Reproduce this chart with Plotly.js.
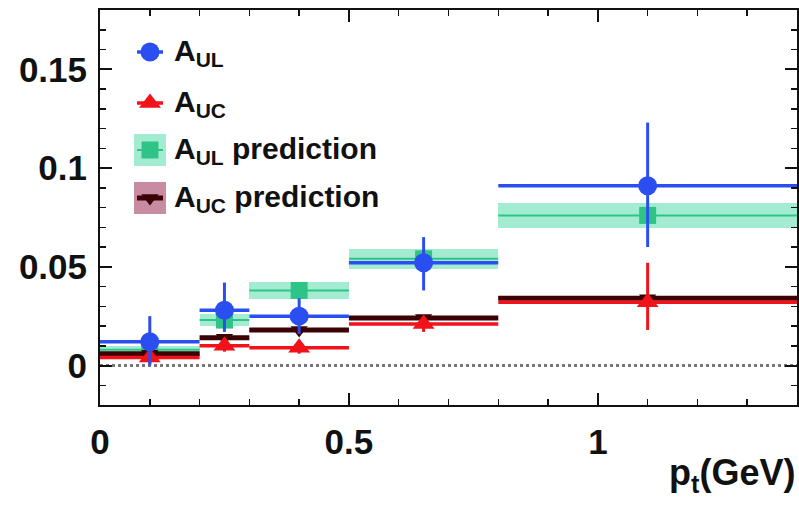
<!DOCTYPE html>
<html>
<head>
<meta charset="utf-8">
<script src="https://cdn.plot.ly/plotly-3.0.1.min.js"></script>
<style>html,body{margin:0;padding:0;background:#fff;}#chart{width:799px;height:507px;}</style>
</head>
<body>
<div id="chart"></div>
<script>
// ---- data ----
var ptX      = [0.1, 0.25, 0.4, 0.65, 1.1];      // bin centres (GeV)
var binHalf  = [0.1, 0.05, 0.1, 0.15, 0.3];      // half bin widths
var aUL      = [0.012, 0.028, 0.025, 0.052, 0.091];
var aULup    = [0.013, 0.014, 0.009, 0.013, 0.032];
var aULdn    = [0.012, 0.011, 0.009, 0.014, 0.031];
var aUC      = [0.004, 0.010, 0.009, 0.021, 0.032];
var aUCup    = [0.003, 0.003, 0.003, 0.004, 0.020];
var aUCdn    = [0.003, 0.003, 0.003, 0.004, 0.014];
var predUL    = [0.008, 0.023, 0.038, 0.054, 0.076];
var predULerr = [0.002, 0.003, 0.0045, 0.005, 0.0063];
var predUC    = [0.006, 0.014, 0.018, 0.024, 0.034];
var predUCerr = [0.001, 0.001, 0.001, 0.001, 0.001];
var legendLabels = ['A<sub>UL</sub>', 'A<sub>UC</sub>', 'A<sub>UL</sub> prediction', 'A<sub>UC</sub> prediction'];
var xTitle = 'p<sub>t</sub>(GeV)';

// ---- styles ----
var cBlue = '#2b4ef0', cRed = '#f2121a', cGreen = '#2fc487', cGreenBand = '#a3ecd2',
    cDark = '#3a0205', cPinkBand = '#c98ba2';
var FONT = 'Liberation Sans, Arial, Helvetica, sans-serif';

function widths(arr){ return arr.map(function(h){ return 2*h; }); }
function bases(v, e){ return v.map(function(y,i){ return y - e[i]; }); }
function heights(e){ return e.map(function(x){ return 2*x; }); }

var traces = [
  // prediction bands
  {type:'bar', x:ptX, width:widths(binHalf), base:bases(predUL,predULerr), y:heights(predULerr),
   marker:{color:cGreenBand, line:{width:0}}, showlegend:false, hoverinfo:'skip'},
  {type:'bar', x:ptX, width:widths(binHalf), base:bases(predUC,predUCerr), y:heights(predUCerr),
   marker:{color:cPinkBand, line:{width:0}}, showlegend:false, hoverinfo:'skip'},
  // prediction central values
  {type:'scatter', mode:'markers', x:ptX, y:predUL,
   marker:{symbol:'square', size:17, color:cGreen},
   error_x:{type:'data', array:binHalf, thickness:2, width:0, color:cGreen}, showlegend:false},
  {type:'scatter', mode:'markers', x:ptX, y:predUC,
   marker:{symbol:'triangle-down', size:15, color:cDark},
   error_x:{type:'data', array:binHalf, thickness:5, width:0, color:cDark}, showlegend:false},
  // measurements
  {type:'scatter', mode:'markers', x:ptX, y:aUC,
   marker:{symbol:'triangle-up', size:19, color:cRed},
   error_x:{type:'data', array:binHalf, thickness:3.5, width:0, color:cRed},
   error_y:{type:'data', array:aUCup, arrayminus:aUCdn, thickness:3, width:0, color:cRed}, showlegend:false},
  {type:'scatter', mode:'markers', x:ptX, y:aUL,
   marker:{symbol:'circle', size:19, color:cBlue},
   error_x:{type:'data', array:binHalf, thickness:3.5, width:0, color:cBlue},
   error_y:{type:'data', array:aULup, arrayminus:aULdn, thickness:3, width:0, color:cBlue}, showlegend:false}
];

// ---- custom legend (keys drawn on a pixel-unit overlay axis) ----
var legX = 50, legTextX = 72, legRows = [42, 93, 140, 188], keyHalf = 13;
var keySpecs = [
  {sym:'circle', size:19, color:cBlue, line:cBlue, lw:3.5},
  {sym:'triangle-up', size:19, color:cRed, line:cRed, lw:3.5},
  {sym:'square', size:17, color:cGreen, line:cGreen, lw:2, band:cGreenBand},
  {sym:'triangle-down', size:15, color:cDark, line:cDark, lw:5, band:cPinkBand}
];
var annotations = [];
keySpecs.forEach(function(k, i){
  if (k.band) {
    traces.push({type:'scatter', mode:'markers', xaxis:'x2', yaxis:'y2', x:[legX], y:[legRows[i]],
      marker:{symbol:'square', size:32, color:k.band}, showlegend:false, hoverinfo:'skip'});
  }
  traces.push({type:'scatter', mode:'markers', xaxis:'x2', yaxis:'y2', x:[legX], y:[legRows[i]],
    marker:{symbol:k.sym, size:k.size, color:k.color},
    error_x:{type:'data', array:[keyHalf], thickness:k.lw, width:0, color:k.line},
    showlegend:false, hoverinfo:'skip'});
  annotations.push({xref:'x2', yref:'y2', x:legTextX, y:legRows[i], xanchor:'left', yanchor:'middle',
    text:legendLabels[i], showarrow:false, font:{family:FONT, size:30, color:'#111', weight:'bold'}});
});

annotations.push({xref:'paper', yref:'paper', x:1.0, y:-0.115, xanchor:'right', yanchor:'top',
  text:xTitle, showarrow:false, font:{family:FONT, size:36, color:'#111', weight:'bold'}});

var W = 697, H = 395;
var layout = {
  width:799, height:507,
  margin:{l:100, r:2, t:10, b:102, pad:0},
  paper_bgcolor:'#fff', plot_bgcolor:'#fff',
  barmode:'overlay', bargap:0,
  showlegend:false,
  xaxis:{range:[0,1.4], tick0:0, dtick:0.5, ticks:'inside', ticklen:12, tickwidth:2, tickcolor:'#111',
    showline:true, linewidth:2, linecolor:'#111', mirror:'allticks', showgrid:false, zeroline:false,
    minor:{dtick:0.1, ticks:'inside', ticklen:6, tickwidth:1.5, tickcolor:'#111', showgrid:false},
    tickfont:{family:FONT, size:35, color:'#111', weight:'bold'}, ticklabelstandoff:5},
  yaxis:{range:[-0.02,0.18], tick0:0, dtick:0.05, ticks:'inside', ticklen:12, tickwidth:2, tickcolor:'#111',
    showline:true, linewidth:2, linecolor:'#111', mirror:'allticks', showgrid:false, zeroline:false,
    minor:{dtick:0.01, ticks:'inside', ticklen:6, tickwidth:1.5, tickcolor:'#111', showgrid:false},
    tickfont:{family:FONT, size:35, color:'#111', weight:'bold'}, ticklabelstandoff:4},
  xaxis2:{overlaying:'x', range:[0,W], visible:false, fixedrange:true},
  yaxis2:{overlaying:'y', range:[H,0], visible:false, fixedrange:true},
  shapes:[{type:'line', xref:'paper', x0:0, x1:1, yref:'y', y0:0, y1:0,
    line:{color:'#777', width:3, dash:'dot'}, layer:'below'}],
  annotations:annotations
};

Plotly.newPlot('chart', traces, layout, {displayModeBar:false, staticPlot:true});
</script>
</body>
</html>
